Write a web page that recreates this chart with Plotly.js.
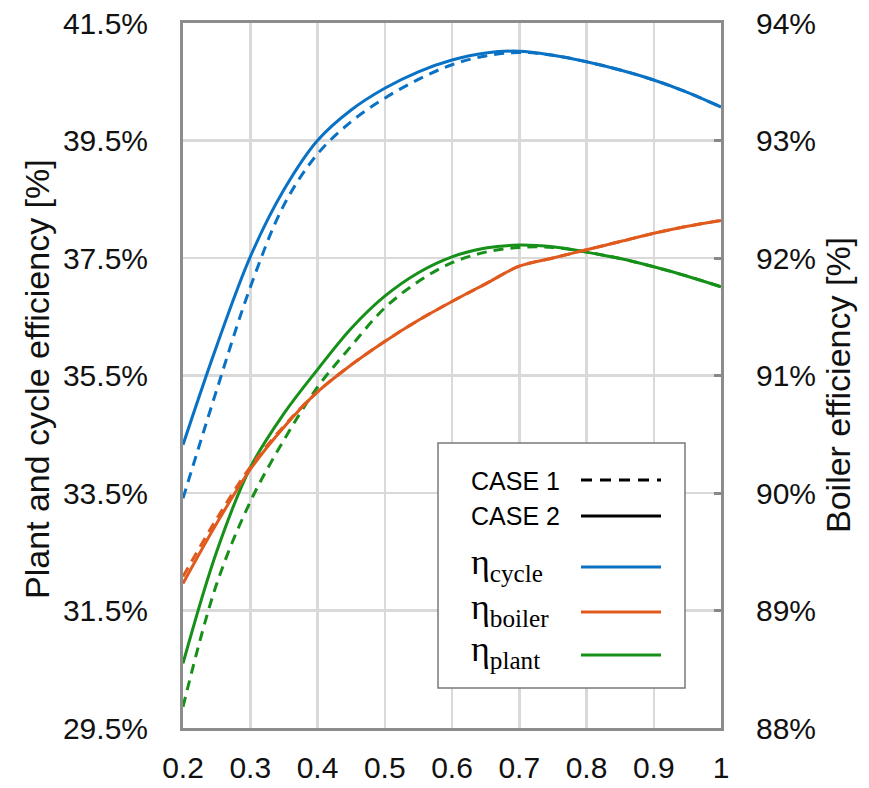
<!DOCTYPE html>
<html>
<head>
<meta charset="utf-8">
<script src="https://cdn.plot.ly/plotly-3.0.1.min.js"></script>
<style>html,body{margin:0;padding:0;background:#fff;}</style>
</head>
<body>
<div id="chart" style="width:869px;height:788px;"></div>
<script>
// Load ratio (x axis)
const loadX = [0.2, 0.25, 0.3, 0.35, 0.4, 0.45, 0.5, 0.55, 0.6, 0.65, 0.7, 0.75, 0.8, 0.85, 0.9, 0.95, 1.0];

// Cycle efficiency [%]
const cycleCase1 = [33.41, 35.25, 37.0, 38.4, 39.27, 39.82, 40.22, 40.54, 40.79, 40.94, 41.0, 40.95, 40.84, 40.7, 40.53, 40.32, 40.07];
const cycleCase2 = [34.32, 36.0, 37.52, 38.66, 39.5, 40.02, 40.39, 40.67, 40.87, 40.99, 41.02, 40.95, 40.84, 40.7, 40.53, 40.32, 40.07];

// Plant efficiency [%]
const plantCase1 = [29.86, 31.95, 33.35, 34.4, 35.3, 36.0, 36.65, 37.1, 37.42, 37.6, 37.68, 37.68, 37.6, 37.49, 37.35, 37.19, 37.01];
const plantCase2 = [30.6, 32.5, 33.93, 34.85, 35.6, 36.3, 36.85, 37.25, 37.52, 37.67, 37.72, 37.69, 37.6, 37.49, 37.35, 37.19, 37.01];

// Boiler efficiency [%] (right axis)
const boilerCase1 = [89.29, 89.78, 90.22, 90.57, 90.86, 91.09, 91.29, 91.47, 91.63, 91.78, 91.93, 92.0, 92.07, 92.14, 92.21, 92.27, 92.32];
const boilerCase2 = [89.23, 89.74, 90.2, 90.56, 90.86, 91.09, 91.29, 91.47, 91.63, 91.78, 91.93, 92.0, 92.07, 92.14, 92.21, 92.27, 92.32];

// Tick labels
const leftTicks = [29.5, 31.5, 33.5, 35.5, 37.5, 39.5, 41.5];
const leftTickText = ["29.5%", "31.5%", "33.5%", "35.5%", "37.5%", "39.5%", "41.5%"];
const rightTicks = [88, 89, 90, 91, 92, 93, 94];
const rightTickText = ["88%", "89%", "90%", "91%", "92%", "93%", "94%"];

// Legend entries
const caseLabels = ["CASE 1", "CASE 2"];
const etaLabels = ["η<sub>cycle</sub>", "η<sub>boiler</sub>", "η<sub>plant</sub>"];

const BLUE = "#0a72c4", ORANGE = "#e05a1e", GREEN = "#169018";
const DASH = "10px,7px";
const LW = 3;

function tr(y, color, dash, axis) {
  return {
    x: loadX, y: y, type: "scatter", mode: "lines",
    line: {color: color, width: LW, dash: dash, shape: "spline", smoothing: 1},
    yaxis: axis, hoverinfo: "skip"
  };
}

const data = [
  tr(boilerCase2, ORANGE, "solid", "y2"),
  tr(boilerCase1, ORANGE, DASH, "y2"),
  tr(cycleCase1, BLUE, DASH, "y"),
  tr(cycleCase2, BLUE, "solid", "y"),
  tr(plantCase1, GREEN, DASH, "y"),
  tr(plantCase2, GREEN, "solid", "y")
];

// paper coords helpers (plot area px: x 183..721, y 23..728)
const px = v => (v - 183) / 538;
const py = v => (728 - v) / 705;

const FONT = "Liberation Sans, Arial, Helvetica, sans-serif";
const SERIF = "Liberation Serif, Times New Roman, serif";

const shapes = [
  {type: "rect", xref: "paper", yref: "paper", x0: px(438), x1: px(685), y0: py(688), y1: py(443),
   line: {color: "#7a7a7a", width: 1.5}, fillcolor: "#ffffff", layer: "above"},
  {type: "line", xref: "paper", yref: "paper", x0: px(581), x1: px(661), y0: py(480), y1: py(480),
   line: {color: "#000", width: 3, dash: "11px,8px"}, layer: "above"},
  {type: "line", xref: "paper", yref: "paper", x0: px(581), x1: px(661), y0: py(516), y1: py(516),
   line: {color: "#000", width: 3}, layer: "above"},
  {type: "line", xref: "paper", yref: "paper", x0: px(581), x1: px(661), y0: py(567), y1: py(567),
   line: {color: BLUE, width: 3}, layer: "above"},
  {type: "line", xref: "paper", yref: "paper", x0: px(581), x1: px(661), y0: py(612), y1: py(612),
   line: {color: ORANGE, width: 3}, layer: "above"},
  {type: "line", xref: "paper", yref: "paper", x0: px(581), x1: px(661), y0: py(655), y1: py(655),
   line: {color: GREEN, width: 3}, layer: "above"}
];

const annotations = [
  {text: caseLabels[0], xref: "paper", yref: "paper", x: px(469), y: py(481), xanchor: "left", yanchor: "middle",
   showarrow: false, font: {family: FONT, size: 25, color: "#000"}},
  {text: caseLabels[1], xref: "paper", yref: "paper", x: px(469), y: py(516), xanchor: "left", yanchor: "middle",
   showarrow: false, font: {family: FONT, size: 25, color: "#000"}},
  {text: etaLabels[0], xref: "paper", yref: "paper", x: px(469), y: py(564), xanchor: "left", yanchor: "middle",
   showarrow: false, font: {family: SERIF, size: 36, color: "#000"}},
  {text: etaLabels[1], xref: "paper", yref: "paper", x: px(469), y: py(609), xanchor: "left", yanchor: "middle",
   showarrow: false, font: {family: SERIF, size: 36, color: "#000"}},
  {text: etaLabels[2], xref: "paper", yref: "paper", x: px(469), y: py(651), xanchor: "left", yanchor: "middle",
   showarrow: false, font: {family: SERIF, size: 36, color: "#000"}},
  {text: "Plant and cycle efficiency [%]", xref: "paper", yref: "paper", x: px(37), y: py(379),
   xanchor: "center", yanchor: "middle", textangle: -90, showarrow: false,
   font: {family: FONT, size: 34, color: "#111"}},
  {text: "Boiler efficiency [%]", xref: "paper", yref: "paper", x: px(838), y: py(385),
   xanchor: "center", yanchor: "middle", textangle: -90, showarrow: false,
   font: {family: FONT, size: 34, color: "#111"}}
];

const layout = {
  width: 869, height: 788,
  margin: {l: 183, r: 148, t: 23, b: 60, pad: 0},
  paper_bgcolor: "#fff", plot_bgcolor: "#fff",
  showlegend: false,
  xaxis: {
    range: [0.2, 1.0], tick0: 0.2, dtick: 0.1, showgrid: true, gridcolor: "#d9d9d9", gridwidth: 2.5,
    zeroline: false, showline: true, linecolor: "#8c8c8c", linewidth: 3, mirror: true,
    ticks: "", ticklabelstandoff: 11,
    tickfont: {family: FONT, size: 30, color: "#111"}
  },
  yaxis: {
    range: [29.5, 41.5], tickvals: leftTicks, ticktext: leftTickText, showgrid: true,
    gridcolor: "#d9d9d9", gridwidth: 2.5, zeroline: false, showline: true, linecolor: "#8c8c8c",
    linewidth: 3, mirror: true, ticks: "", ticklabelstandoff: 26,
    tickfont: {family: FONT, size: 30, color: "#111"}
  },
  yaxis2: {
    range: [88, 94], tickvals: rightTicks, ticktext: rightTickText, overlaying: "y", side: "right",
    showgrid: false, zeroline: false, showline: false, ticks: "inside", ticklen: 7, tickwidth: 3,
    tickcolor: "#888", ticklabelstandoff: 34,
    tickfont: {family: FONT, size: 30, color: "#111"}
  },
  shapes: shapes,
  annotations: annotations
};

Plotly.newPlot("chart", data, layout, {displayModeBar: false, staticPlot: true});
</script>
</body>
</html>
